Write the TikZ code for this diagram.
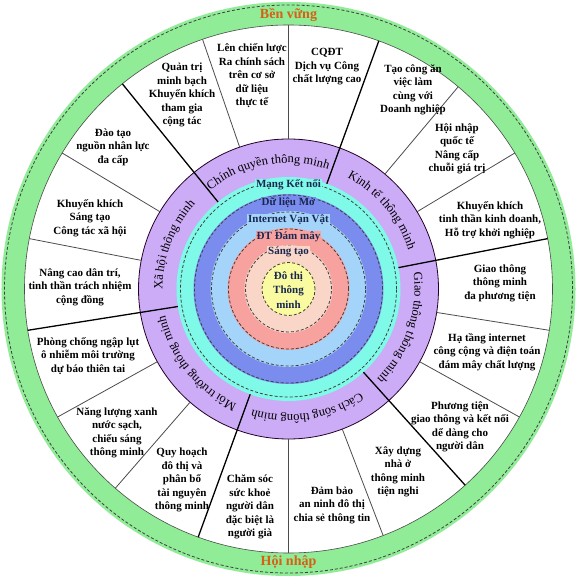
\documentclass[tikz,border=0pt]{standalone}
\usepackage{fontspec}
\setmainfont{Liberation Serif}
\usetikzlibrary{decorations.text}
\definecolor{ringgreen}{RGB}{144,236,150}
\definecolor{ringpurple}{RGB}{204,172,246}
\definecolor{ringcyan}{RGB}{128,250,232}
\definecolor{ringblue}{RGB}{122,140,238}
\definecolor{ringlblue}{RGB}{164,212,250}
\definecolor{ringsalmon}{RGB}{248,162,160}
\definecolor{ringlpink}{RGB}{250,214,200}
\definecolor{ringyellow}{RGB}{250,250,160}
\definecolor{labelorange}{RGB}{214,96,20}
\definecolor{corenavy}{RGB}{25,40,80}
\newcommand\ringfont{\fontsize{12.5}{14}\selectfont}
\begin{document}
\begin{tikzpicture}[x=1pt,y=1pt,
  dashring/.style={draw=black!75, dash pattern=on 3pt off 2pt, line width=0.8pt},
  majorline/.style={draw=black, line width=1.3pt},
  minorline/.style={draw=black!70, line width=0.8pt},
  subtext/.style={align=center, inner sep=0pt, font=\fontsize{11}{13.5}\selectfont\bfseries},
  coretext/.style={align=center, inner sep=1pt, text=corenavy, font=\fontsize{11}{14.5}\selectfont\bfseries},
  ringlabel/.style={decorate, decoration={text along path, text align=center, text={|\ringfont|#1}}},
  endlabel/.style={text=labelorange, font=\fontsize{14}{16}\selectfont\bfseries, inner sep=0pt}
]
\useasboundingbox (-288.5,-288) rectangle (287.5,289);
\fill[white] (-288.5,-288) rectangle (287.5,289);
% green ring
\fill[ringgreen, even odd rule] (0,0) circle[radius=287] (0,0) circle[radius=264];
\draw[dashring] (0,0) circle[radius=284];
\draw[black!70, line width=0.6pt] (0,0) circle[radius=264];
% purple ring
\fill[ringpurple] (0,0) circle[radius=150];
\draw[black!70!violet, line width=0.8pt] (0,0) circle[radius=150];
% inner discs
\fill[ringcyan] (0,0) circle[radius=112];
\draw[dashring] (0,0) circle[radius=108];
\fill[ringblue] (0,0) circle[radius=95];
\draw[dashring] (0,0) circle[radius=94];
\fill[ringlblue] (0,0) circle[radius=78];
\draw[dashring] (0,0) circle[radius=77];
\fill[ringsalmon] (0,0) circle[radius=61];
\draw[dashring] (0,0) circle[radius=60];
\fill[ringlpink] (0,0) circle[radius=44];
\draw[dashring] (0,0) circle[radius=43];
\fill[ringyellow] (0,0) circle[radius=27];
\draw[dashring] (0,0) circle[radius=26.5];
% dividers
\foreach \a in {11,70,129,189,250,312} \draw[majorline] (\a:112) -- (\a:264);
\foreach \a in {31,50,90,109,149,169,209,229,270,291,331,351} \draw[minorline] (\a:150) -- (\a:264);
% ring labels (clockwise, tops outward)
\path[ringlabel={Chính quyền thông minh}] (145:126) arc[start angle=145, end angle=55, radius=126];
\path[ringlabel={Kinh tế thông minh}] (85:126) arc[start angle=85, end angle=-5, radius=126];
\path[ringlabel={Xã hội thông minh}] (204:126) arc[start angle=204, end angle=114, radius=126];
\path[ringlabel={Môi trường thông minh}] (264:126) arc[start angle=264, end angle=174, radius=126];
\path[ringlabel={Cách sống thông minh}] (324:126) arc[start angle=324, end angle=234, radius=126];
\path[ringlabel={Giao thông thông minh}] (386:126) arc[start angle=386, end angle=296, radius=126];
% core labels
\node[coretext, fill=ringcyan] (mang) at (0,104) {Mạng Kết nối};
\node[coretext, fill=ringblue] (dulieu) at (0,86) {Dữ liệu Mở};
\node[coretext, fill=ringlblue] (iot) at (0,69) {Internet Vạn Vật};
\node[coretext, fill=ringsalmon] (cloud) at (0,52) {ĐT Đám mây};
\node[coretext, fill=ringlpink] (sangtao) at (0,37) {Sáng tạo};
\node[coretext, inner sep=0pt] (dothi) at (0,-1) {Đô thị\\Thông\\minh};
% end labels
\node[endlabel] (benvung) at (0,274) {Bền vững};
\node[endlabel] (hoinhap) at (0,-273) {Hội nhập};
% sub-sector texts
\node[subtext] (cqdt) at (38.5,222) {CQĐT\\Dịch vụ Công\\chất lượng cao};
\node[subtext] (chienluoc) at (-36.5,213) {Lên chiến lược\\Ra chính sách\\trên cơ sở\\dữ liệu\\thực tế};
\node[subtext] (quantri) at (-106.5,194) {Quản trị\\minh bạch\\Khuyến khích\\tham gia\\cộng tác};
\node[subtext] (vieclam) at (124.5,199) {Tạo công ăn\\việc làm\\cùng với\\Doanh nghiệp};
\node[subtext] (hoinhapqt) at (168.5,140) {Hội nhập\\quốc tế\\Nâng cấp\\chuỗi giá trị};
\node[subtext] (kinhdoanh) at (201.5,69) {Khuyến khích\\tinh thần kinh doanh,\\Hỗ trợ khởi nghiệp};
\node[subtext] (giaothong) at (211.5,6) {Giao thông\\thông minh\\đa phương tiện};
\node[subtext] (hatang) at (198.5,-63) {Hạ tầng internet\\công cộng và điện toán\\đám mây chất lượng};
\node[subtext] (phuongtien) at (171.5,-138) {Phương tiện\\giao thông và kết nối\\dể dàng cho\\người dân};
\node[subtext] (nhao) at (109.5,-183) {Xây dựng\\nhà ở\\thông minh\\tiện nghi};
\node[subtext] (anninh) at (43.5,-216) {Đảm bảo\\an ninh đô thị\\chia sẻ thông tin};
\node[subtext] (suckhoe) at (-38.5,-218) {Chăm sóc\\sức khoẻ\\người dân\\đặc biệt là\\người già};
\node[subtext] (quyhoach) at (-106.5,-191) {Quy hoạch\\đô thị và\\phân bổ\\tài nguyên\\thông minh};
\node[subtext] (nangluong) at (-171.5,-144) {Năng lượng xanh\\nước sạch,\\chiếu sáng\\thông minh};
\node[subtext] (ngaplut) at (-200.5,-67) {Phòng chống ngập lụt\\ô nhiễm môi trường\\dự báo thiên tai};
\node[subtext] (dantri) at (-208.5,2) {Nâng cao dân trí,\\tinh thần trách nhiệm\\cộng đồng};
\node[subtext] (congtac) at (-198.5,71) {Khuyến khích\\Sáng tạo\\Công tác xã hội};
\node[subtext] (daotao) at (-175.5,142) {Đào tạo\\nguồn nhân lực\\đa cấp};
\end{tikzpicture}
\end{document}
